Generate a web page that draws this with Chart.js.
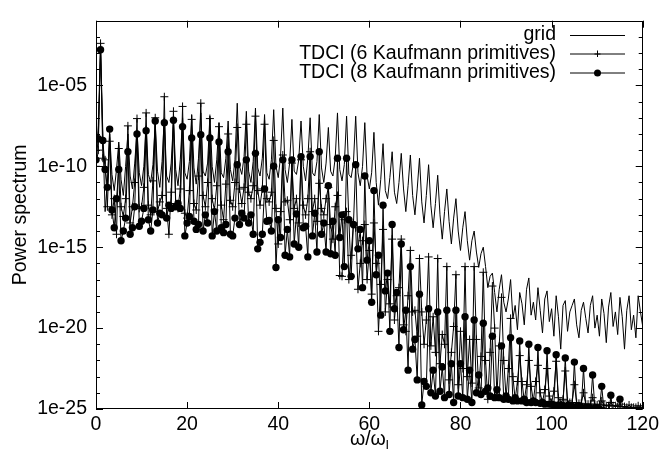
<!DOCTYPE html>
<html>
<head>
<meta charset="utf-8">
<script src="https://cdn.jsdelivr.net/npm/chart.js@4.4.1/dist/chart.umd.min.js"></script>
<style>
  html, body { margin: 0; padding: 0; background: #fff; }
</style>
</head>
<body>
<canvas id="chart" width="663" height="449"></canvas>
<script>
// sampling step of the spectra in omega/omega_l (values start at 0)
const STEP = 0.5;
const xTicks = [0, 20, 40, 60, 80, 100, 120];
const yLabelExp = [-25, -20, -15, -10, -5];
const seriesNames = ["grid", "TDCI (6 Kaufmann primitives)", "TDCI (8 Kaufmann primitives)"];

// log10(power spectrum), one value per STEP, omega = 0 ... 120 (20 values per line = 10 units)
const gridExp = [
  -9.5, -7.5, -2.5, -8.0, -12.8, -11.0, -8.0, -10.5, -11.5, -10.2, -8.5, -10.8, -11.8, -10.0, -8.0, -10.6, -11.4, -9.8, -7.8, -10.4,
  -11.2, -10.0, -7.5, -10.5, -11.0, -9.9, -7.3, -10.3, -11.3, -9.7, -7.0, -10.6, -11.0, -9.8, -7.2, -10.2, -11.2, -9.6, -7.0, -10.4,
  -10.8, -9.7, -6.8, -10.1, -11.1, -9.5, -6.7, -10.3, -10.6, -9.8, -6.9, -10.0, -11.0, -9.6, -7.3, -10.4, -10.7, -9.5, -7.2, -10.2,
  -10.9, -9.6, -6.1, -10.0, -10.5, -9.4, -6.6, -10.3, -11.0, -9.7, -6.4, -10.1, -10.6, -9.5, -6.8, -10.4, -10.8, -9.6, -6.5, -10.0,
  -10.7, -9.4, -6.4, -10.2, -11.0, -9.8, -7.1, -10.3, -10.5, -9.6, -7.2, -10.0, -10.9, -9.5, -7.0, -10.4, -10.6, -9.7, -6.8, -10.1,
  -11.0, -9.8, -7.6, -10.3, -10.6, -9.5, -6.7, -10.2, -10.9, -9.9, -6.9, -10.5, -10.7, -9.8, -6.9, -10.4, -11.2, -10.0, -7.3, -10.6,
  -11.4, -10.4, -7.9, -11.0, -12.4, -10.8, -8.6, -11.5, -12.0, -10.7, -9.1, -11.6, -12.3, -11.0, -9.2, -11.4, -12.8, -11.2, -9.3, -11.8,
  -13.0, -11.4, -9.5, -12.2, -13.5, -11.8, -9.9, -12.4, -13.8, -12.3, -10.55, -13.0, -14.5, -12.8, -11.4, -13.4, -14.8, -13.2, -12.0, -14.0,
  -15.2, -13.8, -12.8, -14.6, -15.8, -14.6, -14.0, -15.3, -16.25, -15.4, -15.0, -16.2, -17.5, -16.8, -16.6, -17.8, -19.0, -17.6, -16.7, -18.4,
  -19.0, -18.2, -17.0, -19.4, -18.6, -20.1, -17.8, -18.5, -19.8, -17.6, -16.9, -19.2, -18.4, -19.5, -17.5, -18.9, -20.3, -18.2, -17.7, -19.6,
  -18.8, -20.5, -18.0, -19.3, -21.3, -18.6, -18.3, -20.2, -19.0, -18.6, -18.2, -19.8, -20.6, -18.9, -18.4, -19.4, -20.3, -18.6, -18.0, -20.0,
  -19.2, -20.5, -18.2, -19.1, -20.9, -18.7, -17.8, -19.9, -19.0, -20.4, -18.1, -19.3, -21.3, -18.9, -18.0, -20.1, -19.2, -20.6, -18.0, -19.0,
  -19.9
];

const tdci6Exp = [
  -10.0, -9.0, -2.4, -9.5, -9.6, -12.5, -8.45, -13.0, -12.0, -14.2, -8.9, -12.5, -13.1, -12.0, -7.5, -13.5, -12.5, -11.0, -7.05, -12.6,
  -12.5, -11.3, -6.7, -12.4, -13.0, -10.9, -7.0, -12.8, -12.2, -11.8, -5.7, -12.6, -14.2, -11.6, -6.6, -12.3, -12.6, -11.4, -6.3, -12.9,
  -13.2, -11.5, -7.1, -12.3, -12.7, -10.6, -6.1, -11.8, -12.5, -11.0, -7.05, -12.0, -12.7, -11.2, -7.55, -12.4, -13.3, -11.1, -8.0, -12.1,
  -12.5, -11.0, -7.6, -11.4, -12.3, -11.3, -7.4, -11.6, -12.0, -11.2, -6.9, -11.5, -12.4, -11.4, -7.4, -12.0, -12.2, -11.6, -8.4, -12.6,
  -14.8, -12.8, -9.3, -12.2, -12.1, -13.3, -9.8, -12.6, -12.0, -13.5, -9.6, -12.4, -13.0, -12.0, -9.1, -12.8, -12.0, -13.4, -11.05, -12.6,
  -13.0, -12.0, -11.3, -13.6, -14.5, -12.5, -11.8, -16.75, -16.8, -13.3, -12.8, -17.0, -15.5, -13.5, -13.8, -17.6, -16.0, -14.6, -13.6, -17.0,
  -15.2, -17.9, -13.5, -16.0, -20.2, -17.3, -13.9, -19.0, -17.0, -18.5, -14.5, -19.5, -18.0, -17.5, -14.5, -19.8, -20.2, -18.0, -15.2, -19.0,
  -18.9, -20.5, -15.7, -19.0, -21.0, -19.5, -15.6, -21.1, -19.3, -21.5, -15.7, -22.2, -20.4, -21.0, -16.2, -23.2, -21.5, -19.9, -16.7, -23.5,
  -20.2, -22.5, -16.2, -23.0, -20.7, -23.4, -16.2, -20.7, -23.7, -21.75, -16.55, -22.0, -24.4, -21.5, -17.4, -20.0, -24.2, -21.1, -18.1, -22.0,
  -24.3, -22.5, -19.4, -23.0, -24.4, -23.3, -21.7, -23.3, -24.5, -23.5, -22.0, -23.6, -24.5, -23.3, -22.3, -24.0, -24.6, -23.8, -22.5, -24.2,
  -24.6, -23.9, -22.05, -24.3, -24.6, -24.4, -22.65, -24.5, -24.6, -24.6, -23.5, -24.6, -24.65, -24.65, -24.0, -24.7, -24.7, -24.7, -24.3, -24.7,
  -24.75, -24.75, -24.5, -24.75, -24.8, -24.8, -24.6, -24.8, -24.8, -24.85, -24.7, -24.85, -24.85, -24.9, -24.75, -24.9, -24.9, -24.9, -24.8, -24.9,
  -24.9
];

const tdci8Exp = [
  -9.6, -8.3, -2.8, -8.4, -10.2, -11.3, -7.7, -12.7, -13.8, -12.0, -10.2, -14.6, -14.0, -13.2, -9.1, -14.2, -13.8, -12.5, -8.0, -13.7,
  -13.4, -12.6, -7.8, -13.3, -14.0, -12.7, -7.2, -13.5, -12.9, -13.0, -7.3, -13.2, -12.4, -12.6, -7.15, -12.5, -12.3, -12.6, -7.55, -14.3,
  -13.5, -13.1, -8.25, -13.4, -13.9, -13.6, -8.05, -14.0, -13.0, -13.5, -8.25, -14.3, -12.8, -14.0, -8.5, -13.8, -14.1, -13.6, -9.1, -14.2,
  -14.3, -13.2, -9.9, -13.6, -12.9, -13.2, -9.6, -13.5, -13.0, -14.2, -9.2, -15.1, -14.7, -14.2, -11.4, -13.4, -13.35, -14.0, -10.0, -16.25,
  -13.3, -14.4, -9.6, -15.5, -13.9, -15.6, -9.6, -14.8, -12.95, -15.0, -9.4, -13.8, -13.7, -15.6, -9.4, -14.3, -12.9, -15.3, -9.1, -14.2,
  -13.5, -15.3, -11.2, -15.4, -13.4, -15.5, -9.5, -14.4, -13.0, -16.2, -9.5, -13.3, -16.8, -13.6, -9.9, -15.1, -13.9, -17.5, -10.6, -15.8,
  -14.6, -18.4, -11.5, -16.7, -15.5, -19.2, -12.4, -17.7, -16.6, -20.2, -13.6, -18.8, -17.8, -21.2, -14.8, -20.1, -18.9, -22.6, -16.2, -21.3,
  -20.7, -23.2, -17.9, -24.75, -23.3, -23.6, -18.8, -24.0, -22.6, -24.2, -19.0, -23.9, -22.4, -24.3, -18.9, -24.1, -22.2, -24.6, -18.9, -24.2,
  -22.2, -24.3, -19.3, -24.4, -22.6, -24.6, -19.5, -24.0, -22.9, -24.1, -19.7, -23.9, -23.7, -24.2, -20.5, -24.3, -23.8, -24.3, -21.1, -24.4,
  -24.2, -24.4, -20.6, -24.5, -24.3, -24.5, -20.8, -24.5, -24.4, -24.6, -21.0, -24.6, -24.5, -24.6, -21.2, -24.65, -24.6, -24.7, -21.4, -24.7,
  -24.7, -24.75, -21.65, -24.75, -24.8, -24.8, -21.85, -24.8, -24.85, -24.85, -22.1, -24.85, -24.9, -24.9, -22.5, -24.9, -24.9, -24.95, -22.9, -24.95,
  -24.95, -25.0, -23.6, -25.1, -25.3, -25.4, -24.15, -25.5, -25.6, -25.6, -24.4, -25.7, -25.8, -25.8, -25.3, -25.9, -26, -26, -25.6, -26,
  -26
];

const FONT = "Liberation Sans, Arial, sans-serif";
const FONT_SIZE = 19.5;

const toPoints = (arr) => arr.map((e, i) => ({ x: i * STEP, y: Math.pow(10, e) }));

// gnuplot-like border, inward ticks, axis titles and key
const framePlugin = {
  id: "frame",
  afterDraw(chart) {
    const { ctx, chartArea: a, scales } = chart;
    const x = scales.x, y = scales.y;
    ctx.save();
    ctx.strokeStyle = "#000";
    ctx.lineWidth = 1;
    ctx.beginPath();
    xTicks.forEach((v) => {
      const px = Math.round(x.getPixelForValue(v)) + 0.5;
      ctx.moveTo(px, a.bottom); ctx.lineTo(px, a.bottom - 7);
      ctx.moveTo(px, a.top); ctx.lineTo(px, a.top + 7);
    });
    for (let e = -25; e <= -1; e++) {
      const py = Math.round(y.getPixelForValue(Math.pow(10, e))) + 0.5;
      const len = e % 5 === 0 ? 7 : 4;
      ctx.moveTo(a.left, py); ctx.lineTo(a.left + len, py);
      ctx.moveTo(a.right, py); ctx.lineTo(a.right - len, py);
    }
    ctx.stroke();
    ctx.strokeRect(Math.round(a.left) + 0.5, Math.round(a.top) + 0.5,
      Math.round(a.right - a.left) - 1, Math.round(a.bottom - a.top) - 1);

    ctx.fillStyle = "#000";
    ctx.font = FONT_SIZE + "px " + FONT;
    ctx.textBaseline = "middle";

    // y title
    ctx.save();
    ctx.translate(21, (a.top + a.bottom) / 2);
    ctx.rotate(-Math.PI / 2);
    ctx.textAlign = "center";
    ctx.fillText("Power spectrum", 0, 0);
    ctx.restore();

    // x title with subscript
    const main = "\u03c9/\u03c9";
    const sub = "l";
    const wMain = ctx.measureText(main).width;
    ctx.font = (FONT_SIZE * 0.7) + "px " + FONT;
    const wSub = ctx.measureText(sub).width;
    const cx = (a.left + a.right) / 2;
    const ty = 440;
    const startX = cx - (wMain + wSub) / 2;
    ctx.font = FONT_SIZE + "px " + FONT;
    ctx.textAlign = "left";
    ctx.fillText(main, startX, ty);
    ctx.font = (FONT_SIZE * 0.7) + "px " + FONT;
    ctx.fillText(sub, startX + wMain, ty + 5);

    // key
    ctx.font = FONT_SIZE + "px " + FONT;
    ctx.textAlign = "right";
    const rows = [35, 53.5, 72.5];
    chart.data.datasets.forEach((ds, i) => {
      const ry = rows[i];
      ctx.fillText(seriesNames[i], 556, ry);
      ctx.beginPath();
      ctx.moveTo(570, ry + 0.5); ctx.lineTo(625, ry + 0.5);
      ctx.stroke();
      if (i === 1) {
        ctx.beginPath();
        ctx.moveTo(597.5 - 3, ry + 0.5); ctx.lineTo(597.5 + 3, ry + 0.5);
        ctx.moveTo(597.5, ry - 3); ctx.lineTo(597.5, ry + 3.5);
        ctx.stroke();
      } else if (i === 2) {
        ctx.beginPath();
        ctx.arc(597.5, ry + 0.5, 3.5, 0, Math.PI * 2);
        ctx.fill();
      }
    });
    ctx.restore();
  }
};

new Chart(document.getElementById("chart"), {
  type: "line",
  data: {
    datasets: [
      {
        label: seriesNames[0],
        data: toPoints(gridExp),
        borderColor: "#000",
        borderWidth: 1,
        pointRadius: 0,
        order: 3,
      },
      {
        label: seriesNames[1],
        data: toPoints(tdci6Exp),
        borderColor: "#000",
        borderWidth: 1,
        pointStyle: "cross",
        pointRadius: 4,
        pointBorderColor: "#000",
        pointBorderWidth: 1,
        order: 2,
      },
      {
        label: seriesNames[2],
        data: toPoints(tdci8Exp),
        borderColor: "#000",
        borderWidth: 1,
        pointStyle: "circle",
        pointRadius: 3.7,
        pointBackgroundColor: "#000",
        pointBorderColor: "#000",
        pointBorderWidth: 0,
        order: 1,
      },
    ],
  },
  options: {
    responsive: false,
    animation: false,
    layout: { padding: { top: 17, right: 19, left: 0, bottom: 0 } },
    plugins: { legend: { display: false }, tooltip: { enabled: false } },
    elements: { line: { tension: 0 } },
    scales: {
      x: {
        type: "linear",
        min: 0,
        max: 120,
        grid: { display: false, drawTicks: false },
        border: { display: false },
        afterBuildTicks: (scale) => { scale.ticks = xTicks.map((v) => ({ value: v })); },
        afterFit: (scale) => { scale.height = 40; },
        ticks: { color: "#000", font: { family: FONT, size: FONT_SIZE }, padding: 4, maxRotation: 0, autoSkip: false },
      },
      y: {
        type: "logarithmic",
        min: 1e-25,
        max: 1e-1,
        grid: { display: false, drawTicks: false },
        border: { display: false },
        afterBuildTicks: (scale) => {
          const t = [];
          for (let e = -25; e <= -1; e++) t.push({ value: Math.pow(10, e) });
          scale.ticks = t;
        },
        afterFit: (scale) => { scale.width = 96; },
        ticks: {
          color: "#000",
          font: { family: FONT, size: FONT_SIZE },
          padding: 9,
          autoSkip: false,
          callback: (value) => {
            const e = Math.round(Math.log10(value));
            return yLabelExp.includes(e) ? "1e-" + String(-e).padStart(2, "0") : "";
          },
        },
      },
    },
  },
  plugins: [framePlugin],
});
</script>
</body>
</html>
